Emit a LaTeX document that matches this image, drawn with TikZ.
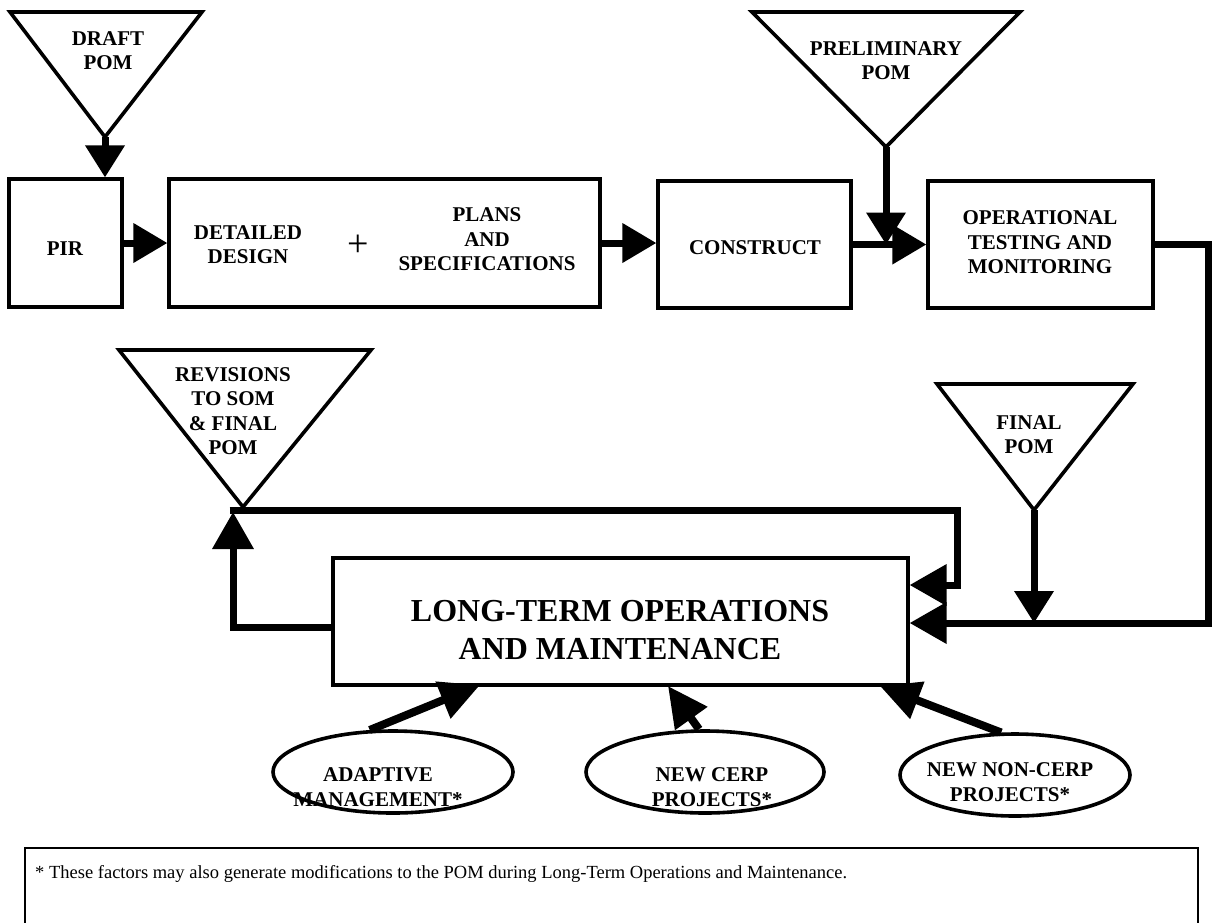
\documentclass[tikz,border=0pt]{standalone}
\usepackage{fontspec}
\setmainfont{Liberation Serif}
\usetikzlibrary{arrows.meta,shapes.geometric,calc}

\begin{document}
\begin{tikzpicture}[x=1pt,y=-1pt,
  box/.style={draw,line width=3.2pt,inner sep=0pt},
  tri/.style={draw,line width=3.6pt,line join=miter},
  lbl/.style={align=center,inner sep=0pt,font=\fontsize{21}{24.5}\selectfont\bfseries},
  biglbl/.style={align=center,inner sep=0pt,font=\fontsize{32}{38}\selectfont\bfseries},
  factor/.style={draw,ellipse,line width=3.6pt,inner sep=0pt},
  flowh/.style={line width=7pt,-{Triangle[length=34pt,width=38pt]}},
  flowv/.style={line width=7pt,-{Triangle[length=32pt,width=38pt]}},
  loopline/.style={line width=7pt,line join=miter,-{Triangle[length=37pt,width=40pt]}},
  feed/.style={line width=8pt,-{Triangle[length=40pt,width=38pt]}}
]
\useasboundingbox (0,0) rectangle (1215,922);

% ---- top row of process boxes
\node[box,minimum width=113pt,minimum height=128pt] (pir) at (65.5,243) {};
\node[lbl] (pirT) at (65,249) {PIR};
\node[box,minimum width=431pt,minimum height=128pt] (dd) at (384.5,243) {};
\node[lbl] (ddT) at (248,244.5) {DETAILED\\DESIGN};
\node[inner sep=0pt,font=\fontsize{38}{40}\selectfont] (plus) at (358,246) {+};
\node[lbl] (psT) at (487,239.5) {PLANS\\AND\\SPECIFICATIONS};
\node[box,minimum width=193pt,minimum height=127pt] (con) at (754.5,244.5) {};
\node[lbl] (conT) at (755,248) {CONSTRUCT};
\node[box,minimum width=225pt,minimum height=127pt] (op) at (1040.5,244.5) {};
\node[lbl] (opT) at (1040,242.5) {OPERATIONAL\\TESTING AND\\MONITORING};

% ---- POM document triangles
\coordinate (draftA) at (105,137);
\draw[tri] (10,12) -- (202,12) -- (draftA) -- cycle;
\node[lbl] (draftT) at (108,50.5) {DRAFT\\POM};

\coordinate (prelA) at (886,147);
\draw[tri] (752,12) -- (1020,12) -- (prelA) -- cycle;
\node[lbl] (prelT) at (886,60.5) {PRELIMINARY\\POM};

\coordinate (revA) at (243,507);
\draw[tri] (119,350) -- (371,350) -- (revA) -- cycle;
\node[lbl] (revT) at (233,411) {REVISIONS\\TO SOM\\\& FINAL\\POM};

\coordinate (finA) at (1034,510);
\draw[tri] (937,384) -- (1133,384) -- (finA) -- cycle;
\node[lbl] (finT) at (1029,434.5) {FINAL\\POM};

% ---- long-term box
\node[box,minimum width=575pt,minimum height=127pt] (ltom) at (620.5,621.5) {};
\node[biglbl] (ltomT) at (620,630) {LONG-TERM OPERATIONS\\AND MAINTENANCE};

% ---- outside factors
\node[factor,minimum width=240pt,minimum height=82pt] (adapt) at (393,772) {};
\node[lbl] (adaptT) at (378,787) {ADAPTIVE\\MANAGEMENT*};
\node[factor,minimum width=238pt,minimum height=82pt] (ncerp) at (705,772) {};
\node[lbl] (ncerpT) at (712,787) {NEW CERP\\PROJECTS*};
\node[factor,minimum width=230pt,minimum height=82pt] (nncerp) at (1015,775) {};
\node[lbl] (nncerpT) at (1010,782) {NEW NON-CERP\\PROJECTS*};

% ---- footnote (box runs past the lower page edge)
\node[draw,line width=1.5pt,minimum width=1173pt,minimum height=82pt,inner sep=0pt] (note) at (611.5,889) {};
\node[inner sep=0pt,anchor=base west,font=\fontsize{18.5}{22}\selectfont] (noteT) at (35,878)
  {* These factors may also generate modifications to the POM during Long-Term Operations and Maintenance.};

% ---- connectors of the top row
\draw[flowv] (draftA) -- (draftA |- pir.north);
\draw[flowh] (pir.east) -- (dd.west);
\draw[flowh] (dd.east) -- (dd.east -| con.west);
\draw[flowh] (con.east) -- (op.west);
\draw[flowv] (prelA) -- (prelA |- op.west);

% ---- return path to long-term box
\coordinate (rc) at (1208,623);
\draw[loopline] (op.east) -| (rc) -- (rc -| ltom.east);
\draw[flowv] (finA) -- (finA |- rc);

% ---- revision loop
\coordinate (lc) at (233,627);
\coordinate (lt) at (233,512);
\coordinate (tl) at (229.5,510);
\coordinate (tr) at (957,585);
\draw[loopline] (ltom.west |- lc) -- (lc) -- (lt);
\draw[loopline] (tl) -| (tr) -- (tr -| ltom.east);

% ---- outside factors feeding the long-term box
\coordinate (ta) at (480,685);
\coordinate (tb) at (668,686);
\coordinate (tc) at (880,686);
\draw[feed] (adapt.119) -- (ta);
\draw[feed] (ncerp.98) -- (tb);
\draw[feed] (nncerp.108) -- (tc);
\end{tikzpicture}
\end{document}
